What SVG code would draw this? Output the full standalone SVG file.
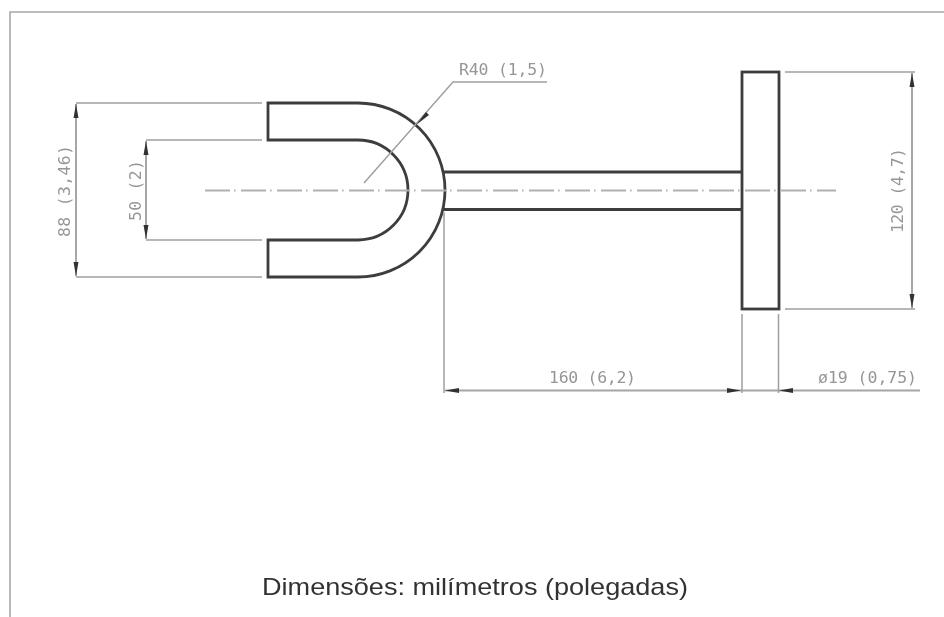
<svg xmlns="http://www.w3.org/2000/svg" width="944" height="617" viewBox="0 0 944 617">
<style>
.part{fill:none;stroke:#3c3c3c;stroke-width:2.8}
.thin{fill:none;stroke:#a0a0a0;stroke-width:1.5}
.dim{fill:none;stroke:#808080;stroke-width:1.4}
.dimh{fill:none;stroke:#a6a6a6;stroke-width:2}
.center{fill:none;stroke:#b0b0b0;stroke-width:1.8;stroke-dasharray:25 4 1.5 5.5}
.head{fill:#333}
.lbl{font-family:"DejaVu Sans Mono","Liberation Mono",monospace;font-size:16.500px;fill:#969696}
.cap{font-family:"Liberation Sans",Arial,sans-serif;font-size:24px;fill:#333}
</style>
<defs>
<filter id="soft" x="-2%" y="-2%" width="104%" height="104%"><feGaussianBlur stdDeviation="0.5"/></filter>
<marker id="ah" viewBox="0 0 14 7" refX="14" refY="3.500" markerWidth="14" markerHeight="7" markerUnits="userSpaceOnUse" orient="auto-start-reverse"><path class="head" d="M0 1 L14 3.500 L0 6 Z"/></marker>
</defs>
<rect width="944" height="617" fill="#fff"/>
<g filter="url(#soft)">
<path id="frame" d="M10 617V12H944" fill="none" stroke="#a8a8a8" stroke-width="1.600"/>
<g id="fork"><path class="part" d="M268 103H358A87 87 0 0 1 358 277H268V240H358A50 50 0 0 0 358 140H268Z"/></g>
<g id="stem"><path class="part" d="M444 172H741M444 209.500H741"/></g>
<g id="flange"><rect class="part" x="742" y="72" width="37" height="237"/></g>
<g id="connectors">
<path class="center" d="M205 190.500H836"/>
<path class="thin" d="M76 103H262M76 277H262M146 140H262M146 240H262M785 72H915M785 309H915M444 212V393M742 314V393M778.500 314V393"/>
<path class="dim" d="M76 104V276" marker-start="url(#ah)" marker-end="url(#ah)"/>
<path class="dim" d="M146 141V239" marker-start="url(#ah)" marker-end="url(#ah)"/>
<path class="dim" d="M912 73V308" marker-start="url(#ah)" marker-end="url(#ah)"/>
<path class="dimh" d="M445 390.500H741" marker-start="url(#ah)" marker-end="url(#ah)"/>
<path class="dimh" d="M741 390.500H778"/>
<path class="dimh" d="M920 390.500H779" marker-end="url(#ah)"/>
<path class="thin" d="M364 183L453 82H547"/>
<path class="head" d="M416 125L426 112L429 115Z"/>
</g>
<text class="lbl" x="459" y="75" textLength="88" lengthAdjust="spacing">R40 (1,5)</text>
<text class="lbl" x="549" y="383" textLength="87" lengthAdjust="spacing">160 (6,2)</text>
<text class="lbl" x="818" y="383" textLength="99" lengthAdjust="spacing">ø19 (0,75)</text>
<text class="lbl" transform="translate(70 237) rotate(-90)" textLength="92" lengthAdjust="spacing">88 (3,46)</text>
<text class="lbl" transform="translate(141 221) rotate(-90)" textLength="61" lengthAdjust="spacing">50 (2)</text>
<text class="lbl" transform="translate(903 233) rotate(-90)" textLength="85" lengthAdjust="spacing">120 (4,7)</text>
<text class="cap" x="262" y="595" textLength="426" lengthAdjust="spacingAndGlyphs">Dimensões: milímetros (polegadas)</text>
</g>
</svg>
